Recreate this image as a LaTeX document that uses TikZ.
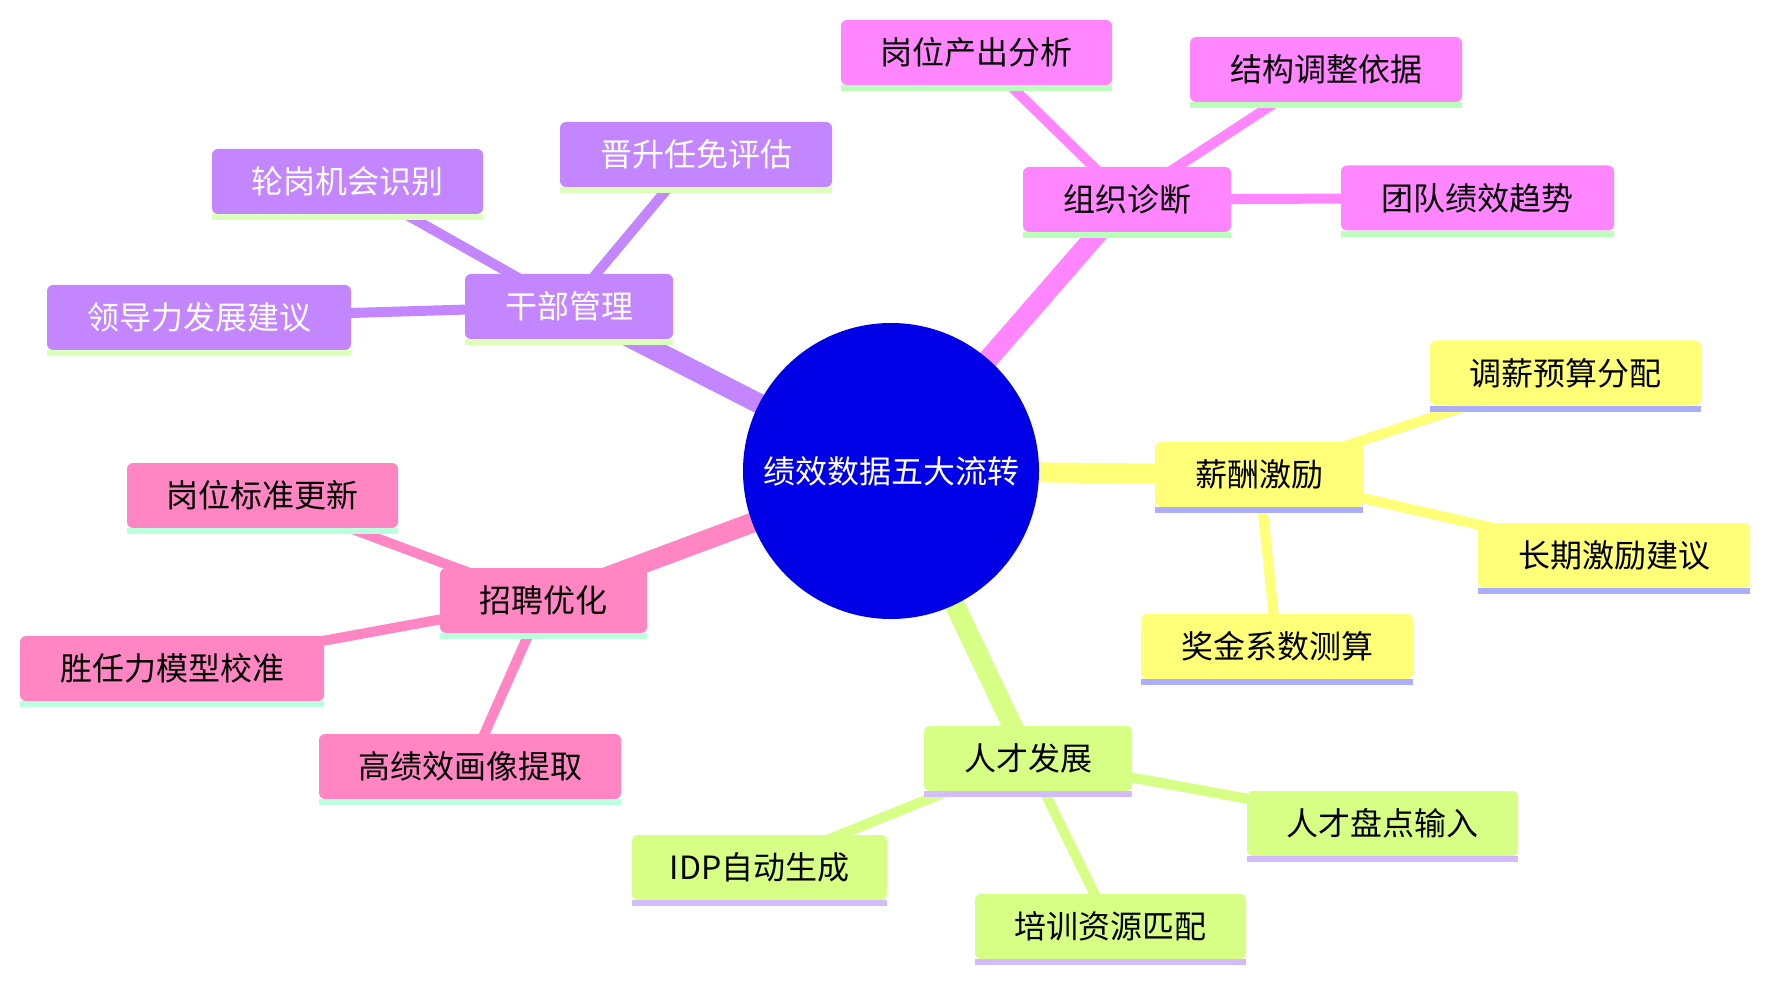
\documentclass[tikz,border=0pt]{standalone}
\usepackage{fontspec}
\newfontfamily\cjk{Noto Sans CJK SC}
\usetikzlibrary{backgrounds}
\definecolor{cRoot}{RGB}{0,0,230}
\definecolor{cMag}{RGB}{255,134,255}
\definecolor{cMagBar}{RGB}{188,255,188}
\definecolor{cPur}{RGB}{195,134,255}
\definecolor{cPurBar}{RGB}{221,255,188}
\definecolor{cYel}{RGB}{255,255,120}
\definecolor{cYelBar}{RGB}{173,173,255}
\definecolor{cGrn}{RGB}{215,255,134}
\definecolor{cGrnBar}{RGB}{211,187,255}
\definecolor{cPnk}{RGB}{255,134,195}
\definecolor{cPnkBar}{RGB}{188,255,222}
\tikzset{
  mbox/.style={rounded corners=6pt, minimum height=65pt, inner sep=0pt,
    font=\cjk\fontsize{32}{38}\selectfont},
  mainedge/.style={line width=20pt, draw=#1},
  leafedge/.style={line width=10pt, draw=#1},
}
\newcommand\mmbox[8]{%
  \node[mbox, fill=#5, text=#7, minimum width=#4pt] (#1) at (#2,#3) {#8};
  \fill[#6] (#1.south west) rectangle ([yshift=-6pt]#1.south east);}
\begin{document}
\begin{tikzpicture}[x=1pt,y=-1pt]
\useasboundingbox (0,0) rectangle (1769,981);
% root
\node[circle, fill=cRoot, minimum size=296pt, inner sep=0pt, text=white,
  font=\cjk\fontsize{32}{38}\selectfont] (root) at (891,471) {绩效数据五大流转};
% 组织诊断
\mmbox{org}{1127}{199.5}{208}{cMag}{cMagBar}{black}{组织诊断}
\mmbox{gwcc}{976.5}{52.5}{271}{cMag}{cMagBar}{black}{岗位产出分析}
\mmbox{jgtz}{1326}{69.5}{272}{cMag}{cMagBar}{black}{结构调整依据}
\mmbox{tdjx}{1477.5}{198}{273}{cMag}{cMagBar}{black}{团队绩效趋势}
% 干部管理
\mmbox{gbgl}{569}{306.5}{208}{cPur}{cPurBar}{white}{干部管理}
\mmbox{jsrm}{696}{154.5}{272}{cPur}{cPurBar}{white}{晋升任免评估}
\mmbox{lgjh}{347.5}{181.5}{271}{cPur}{cPurBar}{white}{轮岗机会识别}
\mmbox{ldl}{199}{317.5}{304}{cPur}{cPurBar}{white}{领导力发展建议}
% 薪酬激励
\mmbox{xcjl}{1259}{474.5}{208}{cYel}{cYelBar}{black}{薪酬激励}
\mmbox{txys}{1565.5}{373}{271}{cYel}{cYelBar}{black}{调薪预算分配}
\mmbox{cqjl}{1614}{555.5}{272}{cYel}{cYelBar}{black}{长期激励建议}
\mmbox{jjxs}{1277}{646.5}{272}{cYel}{cYelBar}{black}{奖金系数测算}
% 招聘优化
\mmbox{zpyh}{543.5}{600.5}{207}{cPnk}{cPnkBar}{black}{招聘优化}
\mmbox{gwbz}{262.5}{495.5}{271}{cPnk}{cPnkBar}{black}{岗位标准更新}
\mmbox{srl}{172}{668.5}{304}{cPnk}{cPnkBar}{black}{胜任力模型校准}
\mmbox{gjx}{470}{766.5}{302}{cPnk}{cPnkBar}{black}{高绩效画像提取}
% 人才发展
\mmbox{rcfz}{1028}{758.5}{208}{cGrn}{cGrnBar}{black}{人才发展}
\mmbox{rcpd}{1382.5}{823.5}{271}{cGrn}{cGrnBar}{black}{人才盘点输入}
\mmbox{idp}{759.5}{867.5}{255}{cGrn}{cGrnBar}{black}{IDP自动生成}
\mmbox{pxzy}{1110.5}{926.5}{271}{cGrn}{cGrnBar}{black}{培训资源匹配}
\begin{scope}[on background layer]
\fill[white] (0,0) rectangle (1769,981);
\draw[mainedge=cMag] (root.center) -- (org.center);
\draw[mainedge=cPur] (root.center) -- (gbgl.center);
\draw[mainedge=cYel] (root.center) -- (xcjl.center);
\draw[mainedge=cPnk] (root.center) -- (zpyh.center);
\draw[mainedge=cGrn] (root.center) -- (rcfz.center);
\draw[leafedge=cMag] (org.center) -- (gwcc.center);
\draw[leafedge=cMag] (org.center) -- (jgtz.center);
\draw[leafedge=cMag] (org.center) -- (tdjx.center);
\draw[leafedge=cPur] (gbgl.center) -- (jsrm.center);
\draw[leafedge=cPur] (gbgl.center) -- (lgjh.center);
\draw[leafedge=cPur] (gbgl.center) -- (ldl.center);
\draw[leafedge=cYel] (xcjl.center) -- (txys.center);
\draw[leafedge=cYel] (xcjl.center) -- (cqjl.center);
\draw[leafedge=cYel] (xcjl.center) -- (jjxs.center);
\draw[leafedge=cPnk] (zpyh.center) -- (gwbz.center);
\draw[leafedge=cPnk] (zpyh.center) -- (srl.center);
\draw[leafedge=cPnk] (zpyh.center) -- (gjx.center);
\draw[leafedge=cGrn] (rcfz.center) -- (rcpd.center);
\draw[leafedge=cGrn] (rcfz.center) -- (idp.center);
\draw[leafedge=cGrn] (rcfz.center) -- (pxzy.center);
\end{scope}
\end{tikzpicture}
\end{document}
